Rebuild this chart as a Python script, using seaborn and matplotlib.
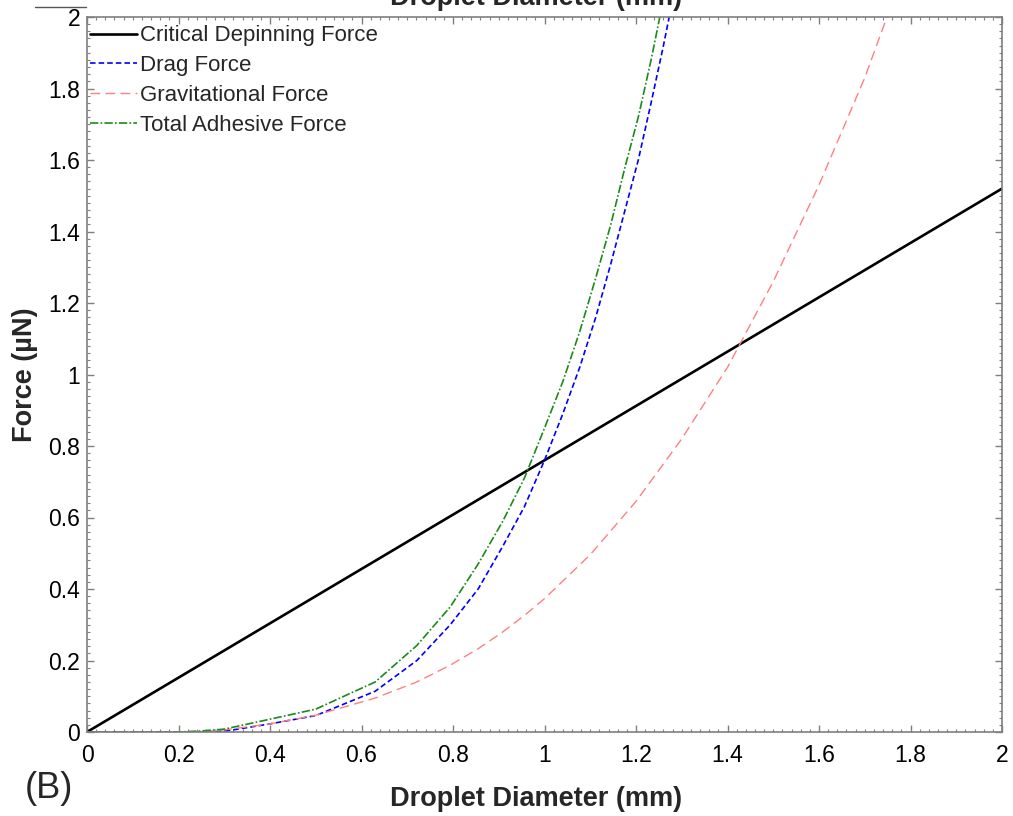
import matplotlib
matplotlib.use("Agg")
import matplotlib.pyplot as plt
from matplotlib.lines import Line2D
from matplotlib.ticker import FixedLocator, MultipleLocator
import numpy as np
import pandas as pd
import seaborn as sns

# Droplet diameters (mm) for the drag / total adhesive series
diameter_mm = [0.0, 0.1, 0.2, 0.25, 0.3, 0.397, 0.5, 0.63, 0.721, 0.794, 0.855,
               0.909, 0.956, 1.0, 1.04, 1.077, 1.112, 1.145, 1.176, 1.205,
               1.233, 1.26, 1.285]
drag_force = [0.0, 0.0, 0.0, 0.0, 0.002, 0.022, 0.046, 0.114, 0.20, 0.30, 0.40,
              0.52, 0.63, 0.76, 0.89, 1.02, 1.16, 1.31, 1.46, 1.60,
              1.76, 1.92, 2.08]
total_adhesive_force = [0.0, 0.0, 0.0, 0.003, 0.008, 0.035, 0.064, 0.14, 0.242,
                        0.35, 0.47, 0.59, 0.71, 0.85, 0.98, 1.12, 1.27, 1.42,
                        1.58, 1.72, 1.88, 2.05, 2.2]

# Gravitational force extends to larger droplets
diameter_grav_mm = [0.0, 0.1, 0.2, 0.25, 0.3, 0.397, 0.5, 0.63, 0.721, 0.794,
                    0.855, 0.909, 0.956, 1.0, 1.1, 1.2, 1.3, 1.4, 1.5, 1.6,
                    1.7, 1.8]
gravitational_force = [0.0, 0.0, 0.0, 0.0, 0.006, 0.022, 0.047, 0.095, 0.14,
                       0.187, 0.233, 0.28, 0.326, 0.373, 0.496, 0.645, 0.82,
                       1.02, 1.26, 1.53, 1.83, 2.18]

# Critical depinning force is linear in diameter
diameter_line_mm = [0.0, 2.0]
depinning_force = [0.0, 1.52]

tick_values = [0, 0.2, 0.4, 0.6, 0.8, 1, 1.2, 1.4, 1.6, 1.8, 2]
tick_labels = ["0", "0.2", "0.4", "0.6", "0.8", "1", "1.2", "1.4", "1.6", "1.8", "2"]

sns.set_theme(style="ticks")
plt.rcParams["font.family"] = ["Liberation Sans", "DejaVu Sans"]
plt.rcParams["lines.scale_dashes"] = False

fig = plt.figure(figsize=(10.13, 8.16), dpi=100)
ax = fig.add_axes([87 / 1013, 1 - 732 / 816, (1002 - 87) / 1013, (732 - 17) / 816])

sns.lineplot(x=diameter_line_mm, y=depinning_force, ax=ax, color="black",
             linewidth=1.9, label="Critical Depinning Force")
sns.lineplot(x=diameter_mm, y=drag_force, ax=ax, color="#0000ff",
             linewidth=1.2, linestyle=(0, (4.0, 2.2)), label="Drag Force")
sns.lineplot(x=diameter_grav_mm, y=gravitational_force, ax=ax, color="#ff8080",
             linewidth=1.0, linestyle=(0, (7.0, 3.8)), label="Gravitational Force")
sns.lineplot(x=diameter_mm, y=total_adhesive_force, ax=ax, color="#1a8a1a",
             linewidth=1.2, linestyle=(0, (6.0, 1.6, 1.2, 1.6)),
             label="Total Adhesive Force")

ax.set_xlim(0, 2)
ax.set_ylim(0, 2)
ax.xaxis.set_major_locator(FixedLocator(tick_values))
ax.yaxis.set_major_locator(FixedLocator(tick_values))
ax.set_xticklabels(tick_labels)
ax.set_yticklabels(tick_labels)
ax.xaxis.set_minor_locator(MultipleLocator(0.02))
ax.yaxis.set_minor_locator(MultipleLocator(0.02))

frame_color = "#7f7f7f"
for side in ["left", "right", "top", "bottom"]:
    ax.spines[side].set_visible(True)
    ax.spines[side].set_color(frame_color)
    ax.spines[side].set_linewidth(1.2)
ax.tick_params(which="both", direction="in", top=True, right=True,
               color=frame_color, labelcolor="black")
ax.tick_params(which="major", length=5, width=1.0, labelsize=16.5)
ax.tick_params(axis="x", which="major", pad=9)
ax.tick_params(axis="y", which="major", pad=5)
ax.tick_params(which="minor", length=2.5, width=0.8)

ax.set_xlabel("Droplet Diameter (mm)", fontsize=19.5, fontweight="bold", labelpad=13)
ax.xaxis.label.set_x(0.491)
ax.set_ylabel("Force (µN)", fontsize=19.5, fontweight="bold", labelpad=7)

leg = ax.legend(loc="upper left", bbox_to_anchor=(0.0, 1 - 5 / 715),
                frameon=False, fontsize=16, handlelength=2.1,
                handletextpad=0.12, labelspacing=0.4, borderaxespad=0.0,
                borderpad=0.15)

# Axis title of the panel above, cut off at the top edge
fig.text(0.529, 1 - 5 / 816, "Droplet Diameter (mm)", fontsize=19.5,
         fontweight="bold", ha="center", va="baseline")
fig.add_artist(Line2D([35 / 1013, 86 / 1013], [1 - 7 / 816, 1 - 7 / 816],
                      color="#555555", linewidth=1.0))

fig.text(0.024, 1 - 798 / 816, "(B)", fontsize=26, ha="left", va="baseline")

fig.savefig("out.png", dpi=100)
